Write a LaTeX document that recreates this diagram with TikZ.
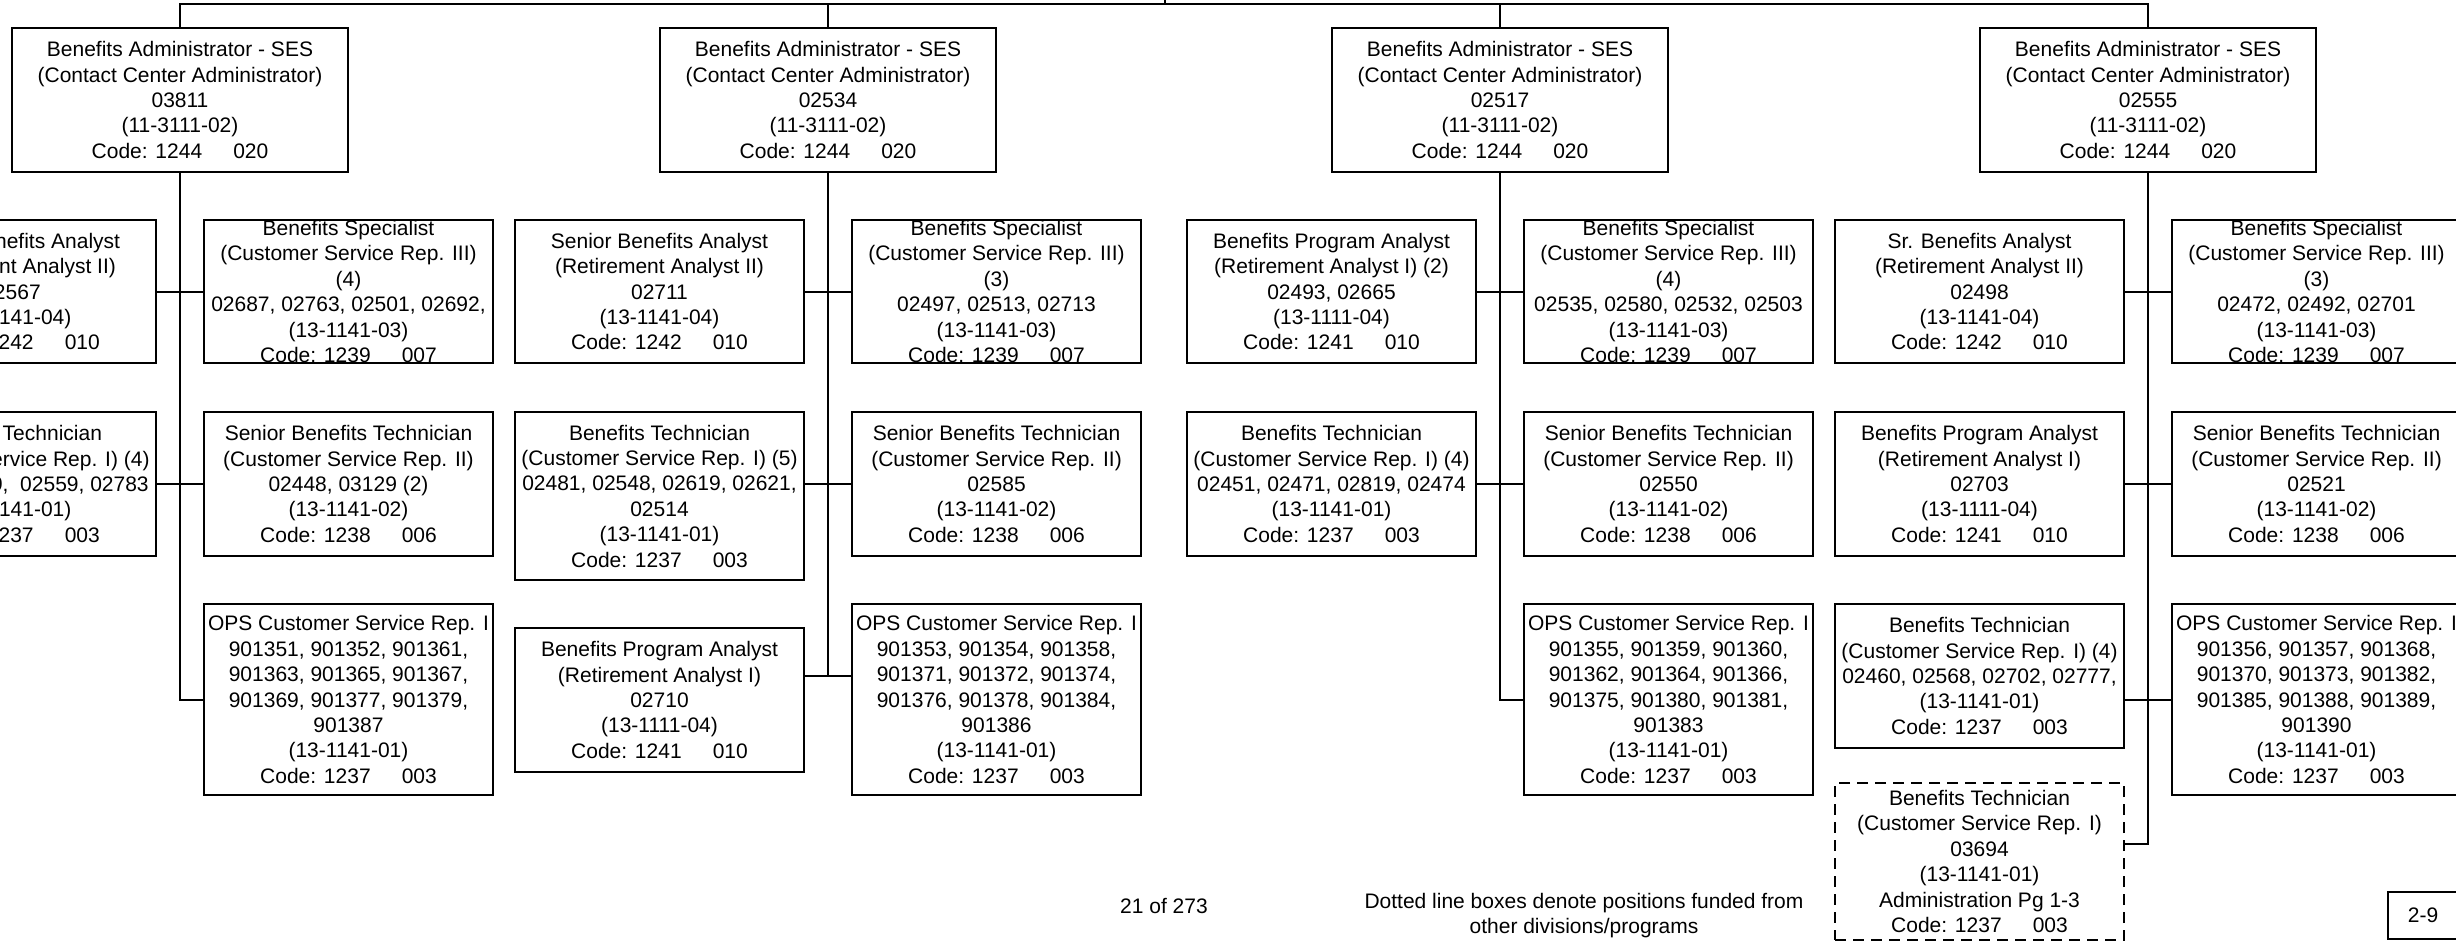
\documentclass[tikz,border=0pt]{standalone}
\usepackage{fontspec}
\setmainfont{Liberation Sans}
\usetikzlibrary{calc}

% gap between the two numbers of a pay code
\newcommand\cgap{\hspace{1.48em}}

\tikzset{
  frame/.style={draw, line width=2pt, rectangle, inner sep=0pt, line join=miter},
  txt/.style={align=center, inner sep=0pt, font=\fontsize{21}{25.4}\selectfont},
  link/.style={line width=2pt},
  funded/.style={dash pattern=on 11pt off 7pt},
}

% \orgbox[extra style]{name}{centre}{width}{height}{text}
\newcommand\orgbox[6][]{%
  \node[frame,#1,minimum width=#4pt,minimum height=#5pt] (#2) at (#3) {};
  \node[txt] (#2-t) at (#2.center) {#6};
}

\begin{document}
\begin{tikzpicture}[x=1pt,y=-1pt]
\fill[white] (0,0) rectangle (2456,941);
\useasboundingbox (0,0) rectangle (2456,941);

\coordinate (top) at (0,4);
\coordinate (up) at (1165,-6);

% ---------------- administrators ----------------
\orgbox{a1}{180,100}{336}{144}{Benefits Administrator - SES\\(Contact Center Administrator)\\03811\\(11-3111-02)\\Code: 1244\cgap 020}
\orgbox{a2}{828,100}{336}{144}{Benefits Administrator - SES\\(Contact Center Administrator)\\02534\\(11-3111-02)\\Code: 1244\cgap 020}
\orgbox{a3}{1500,100}{336}{144}{Benefits Administrator - SES\\(Contact Center Administrator)\\02517\\(11-3111-02)\\Code: 1244\cgap 020}
\orgbox{a4}{2148,100}{336}{144}{Benefits Administrator - SES\\(Contact Center Administrator)\\02555\\(11-3111-02)\\Code: 1244\cgap 020}

% ---------------- group 1 ----------------
\orgbox{g1l1}{11.5,291.5}{289}{143}{Senior Benefits Analyst\\(Retirement Analyst II)\\02567\\(13-1141-04)\\Code: 1242\cgap 010}
\orgbox{g1r1}{348.5,291.5}{289}{143}{Benefits Specialist\\(Customer Service Rep. III)\\(4)\\02687, 02763, 02501, 02692,\\(13-1141-03)\\Code: 1239\cgap 007}
\orgbox{g1l2}{11.5,484}{289}{144}{Benefits Technician\\(Customer Service Rep. I) (4)\\\phantom{00000, 0000}9,\ \ 02559, 02783\\(13-1141-01)\\Code: 1237\cgap 003}
\orgbox{g1r2}{348.5,484}{289}{144}{Senior Benefits Technician\\(Customer Service Rep. II)\\02448, 03129 (2)\\(13-1141-02)\\Code: 1238\cgap 006}
\orgbox{g1r3}{348.5,699.5}{289}{191}{OPS Customer Service Rep. I\\901351, 901352, 901361,\\901363, 901365, 901367,\\901369, 901377, 901379,\\901387\\(13-1141-01)\\Code: 1237\cgap 003}

% ---------------- group 2 ----------------
\orgbox{g2l1}{659.5,291.5}{289}{143}{Senior Benefits Analyst\\(Retirement Analyst II)\\02711\\(13-1141-04)\\Code: 1242\cgap 010}
\orgbox{g2r1}{996.5,291.5}{289}{143}{Benefits Specialist\\(Customer Service Rep. III)\\(3)\\02497, 02513, 02713\\(13-1141-03)\\Code: 1239\cgap 007}
\orgbox{g2l2}{659.5,496}{289}{168}{Benefits Technician\\(Customer Service Rep. I) (5)\\02481, 02548, 02619, 02621,\\02514\\(13-1141-01)\\Code: 1237\cgap 003}
\orgbox{g2r2}{996.5,484}{289}{144}{Senior Benefits Technician\\(Customer Service Rep. II)\\02585\\(13-1141-02)\\Code: 1238\cgap 006}
\orgbox{g2l3}{659.5,700}{289}{144}{Benefits Program Analyst\\(Retirement Analyst I)\\02710\\(13-1111-04)\\Code: 1241\cgap 010}
\orgbox{g2r3}{996.5,699.5}{289}{191}{OPS Customer Service Rep. I\\901353, 901354, 901358,\\901371, 901372, 901374,\\901376, 901378, 901384,\\901386\\(13-1141-01)\\Code: 1237\cgap 003}

% ---------------- group 3 ----------------
\orgbox{g3l1}{1331.5,291.5}{289}{143}{Benefits Program Analyst\\(Retirement Analyst I) (2)\\02493, 02665\\(13-1111-04)\\Code: 1241\cgap 010}
\orgbox{g3r1}{1668.5,291.5}{289}{143}{Benefits Specialist\\(Customer Service Rep. III)\\(4)\\02535, 02580, 02532, 02503\\(13-1141-03)\\Code: 1239\cgap 007}
\orgbox{g3l2}{1331.5,484}{289}{144}{Benefits Technician\\(Customer Service Rep. I) (4)\\02451, 02471, 02819, 02474\\(13-1141-01)\\Code: 1237\cgap 003}
\orgbox{g3r2}{1668.5,484}{289}{144}{Senior Benefits Technician\\(Customer Service Rep. II)\\02550\\(13-1141-02)\\Code: 1238\cgap 006}
\orgbox{g3r3}{1668.5,699.5}{289}{191}{OPS Customer Service Rep. I\\901355, 901359, 901360,\\901362, 901364, 901366,\\901375, 901380, 901381,\\901383\\(13-1141-01)\\Code: 1237\cgap 003}

% ---------------- group 4 ----------------
\orgbox{g4l1}{1979.5,291.5}{289}{143}{Sr. Benefits Analyst\\(Retirement Analyst II)\\02498\\(13-1141-04)\\Code: 1242\cgap 010}
\orgbox{g4r1}{2316.5,291.5}{289}{143}{Benefits Specialist\\(Customer Service Rep. III)\\(3)\\02472, 02492, 02701\\(13-1141-03)\\Code: 1239\cgap 007}
\orgbox{g4l2}{1979.5,484}{289}{144}{Benefits Program Analyst\\(Retirement Analyst I)\\02703\\(13-1111-04)\\Code: 1241\cgap 010}
\orgbox{g4r2}{2316.5,484}{289}{144}{Senior Benefits Technician\\(Customer Service Rep. II)\\02521\\(13-1141-02)\\Code: 1238\cgap 006}
\orgbox{g4l3}{1979.5,676}{289}{144}{Benefits Technician\\(Customer Service Rep. I) (4)\\02460, 02568, 02702, 02777,\\(13-1141-01)\\Code: 1237\cgap 003}
\orgbox{g4r3}{2316.5,699.5}{289}{191}{OPS Customer Service Rep. I\\901356, 901357, 901368,\\901370, 901373, 901382,\\901385, 901388, 901389,\\901390\\(13-1141-01)\\Code: 1237\cgap 003}
\orgbox[funded]{g4d}{1979.5,861.5}{289}{157}{Benefits Technician\\(Customer Service Rep. I)\\03694\\(13-1141-01)\\Administration Pg 1-3\\Code: 1237\cgap 003}

% ---------------- connectors ----------------
\draw[link] (a1.north) -- (a1.north |- top) -- (a4.north |- top) -- (a4.north);
\draw[link] (a2.north) -- (a2.north |- top);
\draw[link] (a3.north) -- (a3.north |- top);
\draw[link] (up) -- (up |- top);

% group 1
\draw[link] (a1.south) -- (a1.south |- g1r3.west) -- (g1r3.west);
\draw[link] (g1l1.east) -- (g1r1.west);
\draw[link] (g1l2.east) -- (g1r2.west);

% group 2
\coordinate (g2j) at ($(g2l3.north east)!0.333!(g2l3.south east)$);
\draw[link] (a2.south) -- (a2.south |- g2j);
\draw[link] (g2l1.east) -- (g2r1.west);
\draw[link] (g2r2.west) -- (g2r2.west -| g2l2.east);
\draw[link] (g2j) -- (g2j -| g2r3.west);

% group 3
\draw[link] (a3.south) -- (a3.south |- g3r3.west) -- (g3r3.west);
\draw[link] (g3l1.east) -- (g3r1.west);
\draw[link] (g3l2.east) -- (g3r2.west);

% group 4
\coordinate (g4j) at ($(g4d.north east)!0.39!(g4d.south east)$);
\draw[link] (a4.south) -- (a4.south |- g4j) -- (g4j);
\draw[link] (g4l1.east) -- (g4r1.west);
\draw[link] (g4l2.east) -- (g4r2.west);
\draw[link] (g4r3.west) -- (g4r3.west -| g4l3.east);

% ---------------- page footer ----------------
\node[txt] (pg) at (1164,906) {21 of 273};
\node[txt] (note) at (1584,915.5) {Dotted line boxes denote positions funded from\\other divisions/programs};
\orgbox{tab}{2423,915.5}{70}{47}{2-9}
\end{tikzpicture}
\end{document}
